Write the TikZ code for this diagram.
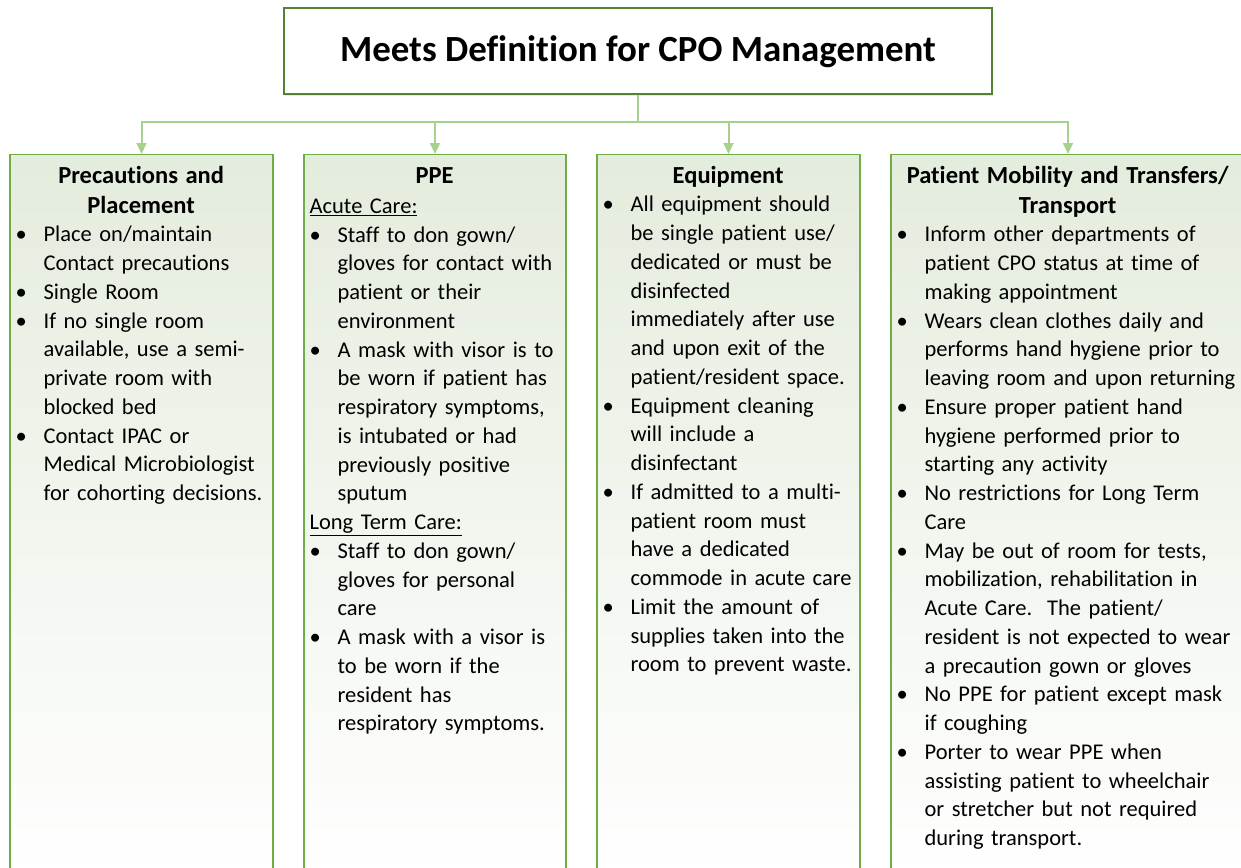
\documentclass[tikz,border=0pt]{standalone}
\usepackage{fontspec}
\setmainfont{Carlito}[Ligatures=CommonOff]
\usepackage{enumitem}
\usetikzlibrary{arrows.meta,shadows}

\definecolor{titleline}{HTML}{548235}
\definecolor{boxline}{HTML}{70AD47}
\definecolor{linkline}{HTML}{A9D18E}
\definecolor{boxtop}{HTML}{E4ECDD}

\setlength{\parindent}{0pt}
\setlist[itemize]{nosep,label=\textbullet,align=left,leftmargin=28pt,labelindent=0pt,labelwidth=28pt,labelsep=0pt}

\newcommand{\colhead}[1]{{\centering\fontsize{24.5}{30}\selectfont\bfseries\strut #1\par}}
\newcommand{\subhead}[1]{\strut\underline{#1}\par}

\begin{document}
\begin{tikzpicture}[x=1pt,y=-1pt,
    every node/.style={font=\fontsize{22.5}{28.75}\selectfont},
    titlebox/.style={draw=titleline,line width=2pt,fill=white,minimum width=708pt,minimum height=85pt,
        font=\fontsize{36.9}{44}\selectfont\bfseries,
        drop shadow={opacity=0.2,shadow xshift=1pt,shadow yshift=-2pt}},
    colbox/.style={draw=boxline,line width=1.2pt,top color=boxtop,bottom color=white,anchor=north,minimum height=726pt},
    coltext/.style={anchor=north west,inner sep=0pt,align=left},
    link/.style={draw=linkline,line width=2pt,-{Triangle[width=10pt,length=11pt]}}]
    \useasboundingbox (0,0) rectangle (1241,867);
    \clip (0,0) rectangle (1241,867);

    % top box
    \node[titlebox,text depth=4pt] (title) at (638,51) {Meets Definition for CPO Management};

    % the four columns
    \node[colbox,minimum width=263pt] (prec) at (141.5,154) {};
    \node[colbox,minimum width=262pt] (ppe) at (435,154) {};
    \node[colbox,minimum width=263pt] (equip) at (728.5,154) {};
    \node[colbox,minimum width=354pt] (mobil) at (1068,154) {};

    \draw[link] (title.south) -- ++(0,27) -| (prec.north);
    \draw[link] (title.south) -- ++(0,27) -| (ppe.north);
    \draw[link] (title.south) -- ++(0,27) -| (equip.north);
    \draw[link] (title.south) -- ++(0,27) -| (mobil.north);

    \node[coltext,text width=251pt] (prectext) at ([xshift=6pt,yshift=-8pt]prec.north west) {%
        \colhead{Precautions and\\Placement}
        \begin{itemize}
            \item Place on/maintain\\Contact precautions
            \item Single Room
            \item If no single room\\available, use a semi-\\private room with\\blocked bed
            \item Contact IPAC or\\Medical Microbiologist\\for cohorting decisions.
        \end{itemize}};

    \node[coltext,text width=250pt] (ppetext) at ([xshift=6pt,yshift=-8pt]ppe.north west) {%
        \colhead{PPE}
        \subhead{Acute Care:}
        \begin{itemize}
            \item Staff to don gown/\\gloves for contact with\\patient or their\\environment
            \item A mask with visor is to\\be worn if patient has\\respiratory symptoms,\\is intubated or had\\previously positive\\sputum
        \end{itemize}
        \subhead{Long Term Care:}
        \begin{itemize}
            \item Staff to don gown/\\gloves for personal\\care
            \item A mask with a visor is\\to be worn if the\\resident has\\respiratory symptoms.
        \end{itemize}};

    \node[coltext,text width=251pt] (equiptext) at ([xshift=6pt,yshift=-8pt]equip.north west) {%
        \colhead{Equipment}
        \begin{itemize}
            \item All equipment should\\be single patient use/\\dedicated or must be\\disinfected\\immediately after use\\and upon exit of the\\patient/resident space.
            \item Equipment cleaning\\will include a\\disinfectant
            \item If admitted to a multi-\\patient room must\\have a dedicated\\commode in acute care
            \item Limit the amount of\\supplies taken into the\\room to prevent waste.
        \end{itemize}};

    \node[coltext,text width=342pt] (mobiltext) at ([xshift=6pt,yshift=-8pt]mobil.north west) {%
        \colhead{Patient Mobility and Transfers/\\Transport}
        \begin{itemize}
            \item Inform other departments of\\patient CPO status at time of\\making appointment
            \item Wears clean clothes daily and\\performs hand hygiene prior to\\leaving room and upon returning
            \item Ensure proper patient hand\\hygiene performed prior to\\starting any activity
            \item No restrictions for Long Term\\Care
            \item May be out of room for tests,\\mobilization, rehabilitation in\\Acute Care.\ \ The patient/\\resident is not expected to wear\\a precaution gown or gloves
            \item No PPE for patient except mask\\if coughing
            \item Porter to wear PPE when\\assisting patient to wheelchair\\or stretcher but not required\\during transport.
        \end{itemize}};
\end{tikzpicture}
\end{document}
